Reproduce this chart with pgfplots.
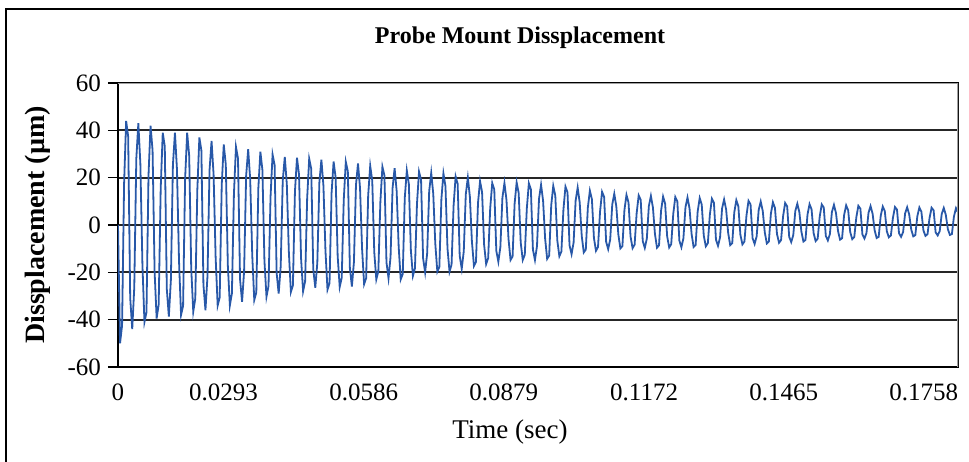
\documentclass[border=0pt]{standalone}
\usepackage{fontspec}
\setmainfont{Liberation Serif}
\usepackage{pgfplots}
\pgfplotsset{compat=1.18}
\usepackage{pgfplotstable}
\definecolor{series}{RGB}{40,88,168}
\definecolor{plotframe}{RGB}{160,160,160}

\pgfplotstableread[row sep=\\]{
y\\
0\\ -50\\ -42.5\\ 17.6\\ 44\\ 37.4\\
-30.8\\ -44\\ -26.4\\ 28\\ 43\\ 25.8\\
-16.4\\ -41\\ -36.9\\ 21\\ 42\\ 31.5\\
-19.8\\ -39.5\\ -33.6\\ 15.6\\ 39\\ 33.2\\
-27.1\\ -38.7\\ -23.2\\ 25.4\\ 39\\ 23.4\\
-15.2\\ -38\\ -34.2\\ 19.5\\ 39\\ 29.3\\
-18.3\\ -36.6\\ -31.1\\ 14.8\\ 37\\ 31.5\\
-25.2\\ -36\\ -21.6\\ 23.1\\ 35.5\\ 21.3\\
-13.6\\ -34\\ -30.6\\ 17\\ 34\\ 25.5\\
-17\\ -34\\ -28.9\\ 13.2\\ 33\\ 28.1\\
-22.8\\ -32.5\\ -19.5\\ 20.8\\ 32\\ 19.2\\
-12.7\\ -31.7\\ -28.5\\ 15.5\\ 31\\ 23.3\\
-15.2\\ -30.3\\ -25.8\\ 11.9\\ 29.8\\ 25.3\\
-20.3\\ -29\\ -17.4\\ 18.7\\ 28.8\\ 17.3\\
-11.3\\ -28.3\\ -25.5\\ 14.2\\ 28.4\\ 21.3\\
-14\\ -28\\ -23.8\\ 11.2\\ 28\\ 23.8\\
-18.6\\ -26.5\\ -15.9\\ 17.9\\ 27.6\\ 16.6\\
-10.9\\ -27.3\\ -24.6\\ 13.4\\ 26.8\\ 20.1\\
-13.1\\ -26.2\\ -22.3\\ 10.7\\ 26.7\\ 22.7\\
-18.2\\ -26\\ -15.6\\ 16.9\\ 26\\ 15.6\\
-10\\ -25\\ -22.5\\ 12.5\\ 25\\ 18.8\\
-11.5\\ -23\\ -19.6\\ 9.8\\ 24.6\\ 20.9\\
-15.8\\ -22.5\\ -13.5\\ 15.6\\ 24\\ 14.4\\
-9.2\\ -23\\ -20.7\\ 11.5\\ 23\\ 17.3\\
-10.8\\ -21.5\\ -18.3\\ 9\\ 22.5\\ 19.1\\
-14\\ -20\\ -12\\ 14.3\\ 22\\ 13.2\\
-7.9\\ -19.7\\ -17.7\\ 10.9\\ 21.8\\ 16.4\\
-9.9\\ -19.7\\ -16.7\\ 8.2\\ 20.5\\ 17.4\\
-13\\ -18.5\\ -11.1\\ 13\\ 20\\ 12\\
-6.9\\ -17.3\\ -15.6\\ 9.3\\ 18.5\\ 13.9\\
-8.3\\ -16.5\\ -14\\ 7.1\\ 17.7\\ 15\\
-10.9\\ -15.5\\ -9.3\\ 11.5\\ 17.7\\ 10.6\\
-5.9\\ -14.8\\ -13.3\\ 9\\ 18\\ 13.5\\
-7.4\\ -14.8\\ -12.6\\ 7\\ 17.6\\ 15\\
-10.4\\ -14.8\\ -8.9\\ 11.1\\ 17\\ 10.2\\
-5.7\\ -14.3\\ -12.9\\ 8.3\\ 16.5\\ 12.4\\
-6.6\\ -13.2\\ -11.2\\ 6.5\\ 16.2\\ 13.8\\
-8.6\\ -12.3\\ -7.4\\ 10.3\\ 15.8\\ 9.5\\
-4.6\\ -11.6\\ -10.4\\ 7.3\\ 14.5\\ 10.9\\
-5.5\\ -10.9\\ -9.3\\ 5.6\\ 14\\ 11.9\\
-7.1\\ -10.2\\ -6.1\\ 8.6\\ 13.2\\ 7.9\\
-4\\ -9.9\\ -8.9\\ 6.4\\ 12.7\\ 9.5\\
-4.9\\ -9.8\\ -8.3\\ 5\\ 12.5\\ 10.6\\
-6.8\\ -9.7\\ -5.8\\ 8\\ 12.3\\ 7.4\\
-3.8\\ -9.6\\ -8.6\\ 6\\ 12\\ 9\\
-4.8\\ -9.5\\ -8.1\\ 4.7\\ 11.8\\ 10\\
-6.6\\ -9.4\\ -5.6\\ 7.5\\ 11.6\\ 7\\
-3.7\\ -9.3\\ -8.4\\ 5.7\\ 11.4\\ 8.6\\
-4.5\\ -9\\ -7.7\\ 4.4\\ 11.1\\ 9.4\\
-6.2\\ -8.8\\ -5.3\\ 7\\ 10.8\\ 6.5\\
-3.4\\ -8.5\\ -7.7\\ 5.3\\ 10.5\\ 7.9\\
-4.1\\ -8.2\\ -7\\ 4.1\\ 10.2\\ 8.7\\
-5.6\\ -8\\ -4.8\\ 6.4\\ 9.9\\ 5.9\\
-3.1\\ -7.8\\ -7\\ 4.8\\ 9.6\\ 7.2\\
-3.8\\ -7.5\\ -6.4\\ 3.7\\ 9.3\\ 7.9\\
-5\\ -7.2\\ -4.3\\ 5.9\\ 9\\ 5.4\\
-2.8\\ -7\\ -6.3\\ 4.4\\ 8.8\\ 6.6\\
-3.4\\ -6.8\\ -5.8\\ 3.5\\ 8.7\\ 7.4\\
-4.6\\ -6.5\\ -3.9\\ 5.5\\ 8.5\\ 5.1\\
-2.5\\ -6.2\\ -5.6\\ 4.2\\ 8.3\\ 6.2\\
-3\\ -6\\ -5.1\\ 3.2\\ 8.1\\ 6.9\\
-4\\ -5.7\\ -3.4\\ 5.2\\ 8\\ 4.8\\
-2.2\\ -5.5\\ -5\\ 3.9\\ 7.8\\ 5.9\\
-2.6\\ -5.2\\ -4.4\\ 3\\ 7.6\\ 6.5\\
-3.5\\ -5\\ -3\\ 4.9\\ 7.5\\ 4.5\\
-1.9\\ -4.8\\ -4.3\\ 3.7\\ 7.4\\ 5.6\\
-2.3\\ -4.6\\ -3.9\\ 2.9\\ 7.3\\ 6.2\\
-3.1\\ -4.4\\ -2.6\\ 4.7\\ 7.2\\ 4.3\\
-1.7\\ -4.2\\ -3.8\\ 3.6\\ 7.1\\ 5.3\\
}\disp

\begin{document}
\begin{tikzpicture}
\useasboundingbox (-59bp,-47.5bp) rectangle (425.5bp,183.5bp);
\draw[black, line width=0.6bp] (-56bp,-60bp) rectangle (430bp,179bp);
\begin{axis}[
  scale only axis, width=420bp, height=142bp,
  xmin=0, xmax=413, ymin=-60, ymax=60,
  ytick={-60,-40,-20,0,20,40,60},
  yticklabels={-60,-40,-20,0,20,40,60},
  xtick={0,68.83,137.67,206.5,275.33,344.17,413},
  xticklabels={0,\llap{0.0293},\llap{0.0586},\llap{0.0879},\llap{0.1172},\llap{0.1465},\llap{0.1758}},
  ytick pos=left, xtick pos=bottom,
  ymajorgrids, grid style={black!85, line width=0.9bp},
  axis line style={black, line width=0.9bp},
  tick align=outside, major tick length=5bp,
  tick style={black, line width=0.8bp},
  xtick style={draw=none},
  ticklabel style={font=\fontsize{12.5bp}{14bp}\selectfont},
  xticklabel style={anchor=north},
  yticklabel style={anchor=east},
]
\addplot[series, line width=0.9bp, line join=miter] table[x expr=\coordindex, y=y] {\disp};
\draw[plotframe, line width=0.8bp] (rel axis cs:0,1) -- (rel axis cs:1,1) -- (rel axis cs:1,0);
\end{axis}
\node[font=\bfseries\fontsize{12bp}{14bp}\selectfont] at (201bp,164.5bp) {Probe Mount Dissplacement};
\node[font=\bfseries\fontsize{14bp}{16bp}\selectfont, rotate=90] at (-40bp,71bp) {Dissplacement (µm)};
\node[font=\fontsize{13.5bp}{16bp}\selectfont] at (196bp,-32.5bp) {Time (sec)};
\end{tikzpicture}
\end{document}
